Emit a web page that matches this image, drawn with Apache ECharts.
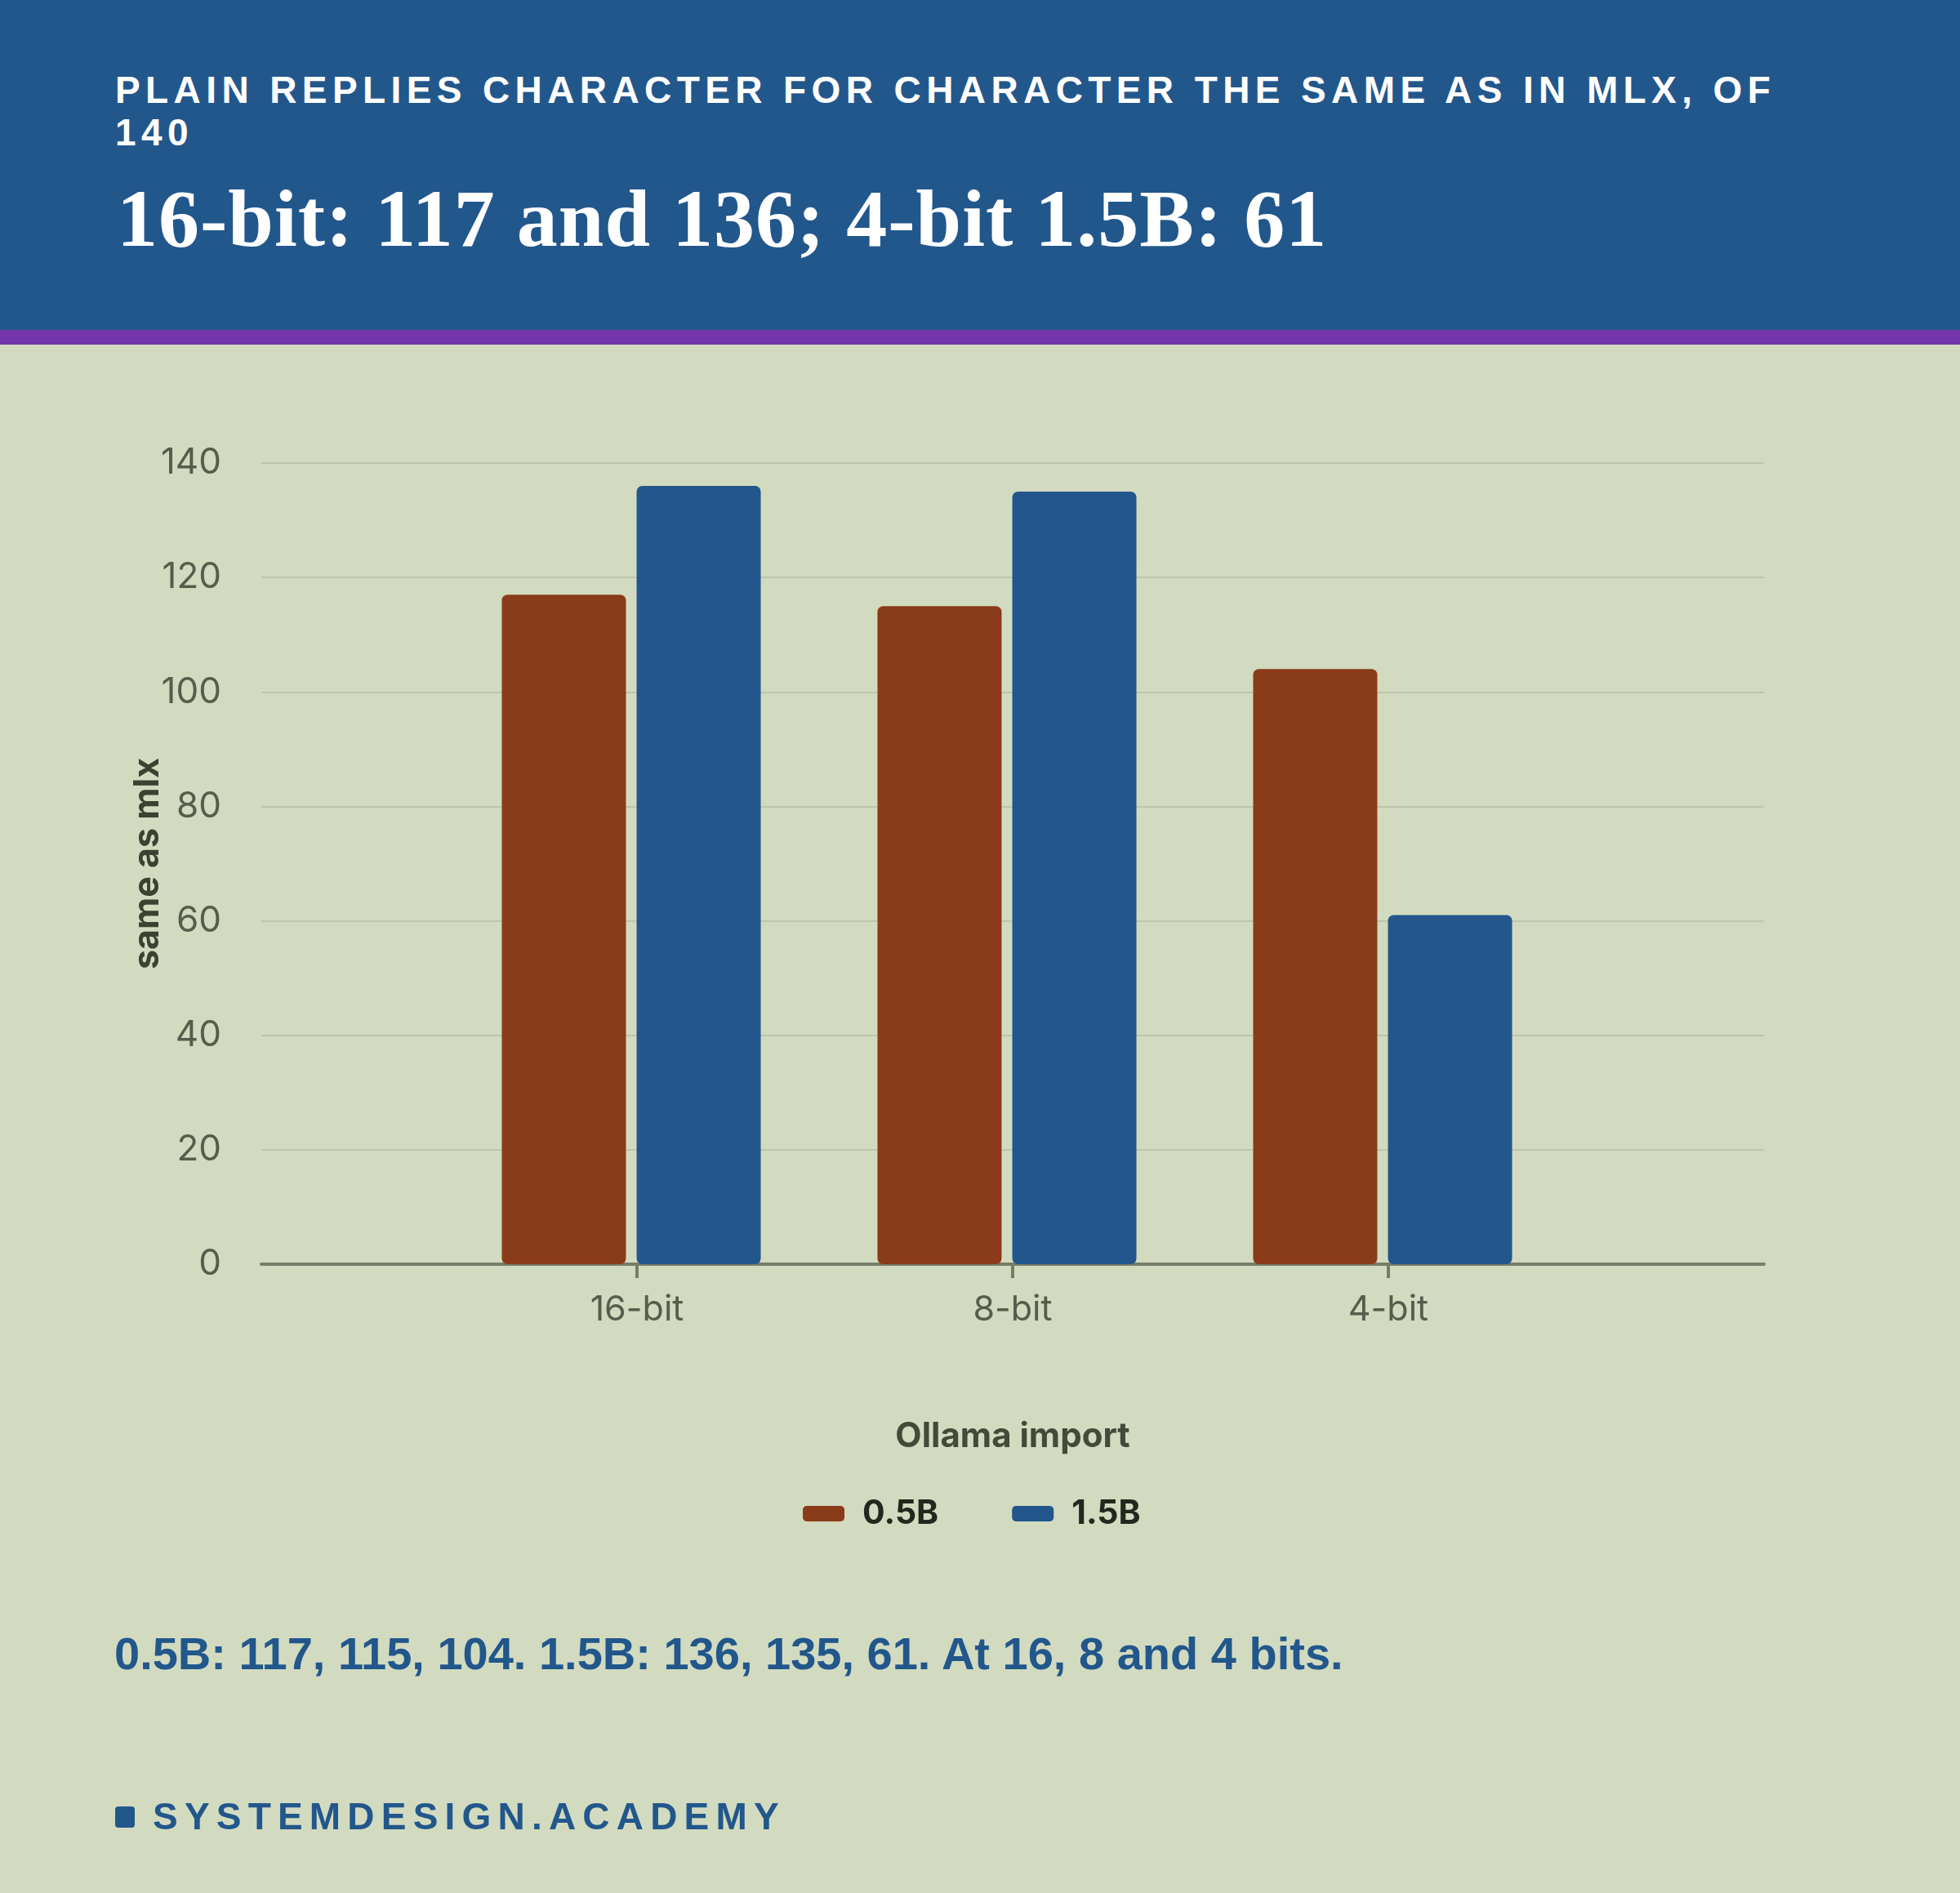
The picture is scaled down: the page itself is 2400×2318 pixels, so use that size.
<!DOCTYPE html>
<html>
<head>
<meta charset="utf-8">
<script src="https://cdn.jsdelivr.net/npm/echarts@6/dist/echarts.min.js"></script>
<style>
  html, body { margin: 0; padding: 0; }
  body { width: 2400px; height: 2318px; background: #D2DBC0; position: relative; overflow: hidden; }
  #chart { position: absolute; left: 0; top: 0; width: 2400px; height: 2318px; }
  #header { position: absolute; left: 0; top: 0; width: 2400px; height: 404px; background: #22578C; z-index: 2; }
  #band { position: absolute; left: 0; top: 404px; width: 2400px; height: 18px; background: #7336AB; z-index: 2; }
  #kicker { position: absolute; left: 141px; top: 84px; width: 2110px; font-family: "Liberation Sans", Arial, sans-serif; font-weight: bold; font-size: 46px; line-height: 52px; letter-spacing: 6.4px; color: #FFFFFF; }
  #title { position: absolute; left: 143px; top: 218px; font-family: "Liberation Serif", "DejaVu Serif", serif; font-weight: bold; font-size: 100px; line-height: 100px; letter-spacing: 1px; color: #FFFFFF; white-space: nowrap; }
  #caption { position: absolute; left: 140px; top: 1991px; font-family: "Liberation Sans", Arial, sans-serif; font-weight: bold; font-size: 56px; line-height: 67px; color: #22578C; white-space: nowrap; z-index: 2; }
  #footer { position: absolute; left: 187px; top: 2198px; font-family: "Liberation Sans", Arial, sans-serif; font-weight: bold; font-size: 46px; line-height: 52px; letter-spacing: 8.2px; color: #22578C; white-space: nowrap; z-index: 2; }
  #sq { position: absolute; left: 141px; top: 2212px; width: 24px; height: 26px; border-radius: 4px; background: #22578C; z-index: 2; }
</style>
</head>
<body>
<div id="chart"></div>
<div id="header">
  <div id="kicker">PLAIN REPLIES CHARACTER FOR CHARACTER THE SAME AS IN MLX, OF 140</div>
  <div id="title">16-bit: 117 and 136; 4-bit 1.5B: 61</div>
</div>
<div id="band"></div>
<div id="caption">0.5B: 117, 115, 104. 1.5B: 136, 135, 61. At 16, 8 and 4 bits.</div>
<div id="sq"></div>
<div id="footer">SYSTEMDESIGN.ACADEMY</div>
<script>
// ---- data ----
const categories = ['16-bit', '8-bit', '4-bit'];
const seriesNames = ['0.5B', '1.5B'];
const values05 = [117, 115, 104];
const values15 = [136, 135, 61];
const yTicks = [0, 20, 40, 60, 80, 100, 120, 140];
const xAxisName = 'Ollama import';
const yAxisName = 'same as mlx';

// padded category list so the three groups sit at the reference spacing
const padCats = [''].concat(categories, ['']);
const pad = arr => ['-'].concat(arr, ['-']);

const chart = echarts.init(document.getElementById('chart'), null, { renderer: 'canvas' });
const axisColor = '#777D69';
const labelColor = '#565D4C';
const chartFont = 'Inter, "Noto Sans", sans-serif';

const option = {
  backgroundColor: 'transparent',
  animation: false,
  textStyle: { fontFamily: chartFont },
  grid: [
    { left: 320, right: 240, top: 567, bottom: 770, containLabel: false },
    { left: 313, right: 247, top: 567, bottom: 770, containLabel: false }
  ],
  legend: {
    data: seriesNames,
    left: 978,
    top: 1828,
    icon: 'roundRect',
    itemWidth: 51,
    itemHeight: 19,
    itemGap: 90,
    textStyle: { fontFamily: chartFont, fontSize: 41, fontWeight: 'bold', color: '#22281E', padding: [0, 0, 0, 17] }
  },
  xAxis: [
    {
      type: 'category', gridIndex: 0, data: padCats, boundaryGap: false,
      name: xAxisName, nameLocation: 'middle', nameGap: 190,
      nameTextStyle: { fontFamily: chartFont, fontSize: 42, fontWeight: 'bold', color: '#434A3A' },
      axisLine: { show: true, lineStyle: { color: axisColor, width: 4 } },
      axisTick: { show: true, length: 17, lineStyle: { color: axisColor, width: 4 }, interval: (i, v) => v !== '' },
      axisLabel: { show: true, margin: 35, fontSize: 43, color: labelColor, fontFamily: chartFont, interval: 0 },
      splitLine: { show: false }
    },
    {
      type: 'category', gridIndex: 1, data: padCats, boundaryGap: false, show: false
    }
  ],
  yAxis: [
    {
      type: 'value', gridIndex: 0, min: 0, max: 140, interval: 20,
      name: yAxisName, nameLocation: 'middle', nameRotate: 90, nameGap: 117, nameMoveOverlap: false,
      nameTextStyle: { fontFamily: chartFont, fontSize: 43, fontWeight: 'bold', color: '#3A4232' },
      axisLine: { show: false }, axisTick: { show: false },
      axisLabel: { margin: 49, fontSize: 44, color: labelColor, fontFamily: chartFont,
        formatter: v => (yTicks.indexOf(v) >= 0 ? String(v) : '') },
      splitLine: { show: true, lineStyle: { color: '#BCC6AB', width: 2 } }
    },
    { type: 'value', gridIndex: 1, min: 0, max: 140, interval: 20, show: false }
  ],
  series: [
    {
      name: seriesNames[0], type: 'bar', xAxisIndex: 1, yAxisIndex: 1,
      data: pad(values05), barWidth: 152, barGap: '8.6%',
      itemStyle: { color: '#8A3B19', borderRadius: 7 }
    },
    {
      name: seriesNames[1], type: 'bar', xAxisIndex: 1, yAxisIndex: 1,
      data: pad(values15), barWidth: 152, barGap: '8.6%',
      itemStyle: { color: '#22568C', borderRadius: 7 }
    }
  ]
};
chart.setOption(option);
</script>
</body>
</html>
